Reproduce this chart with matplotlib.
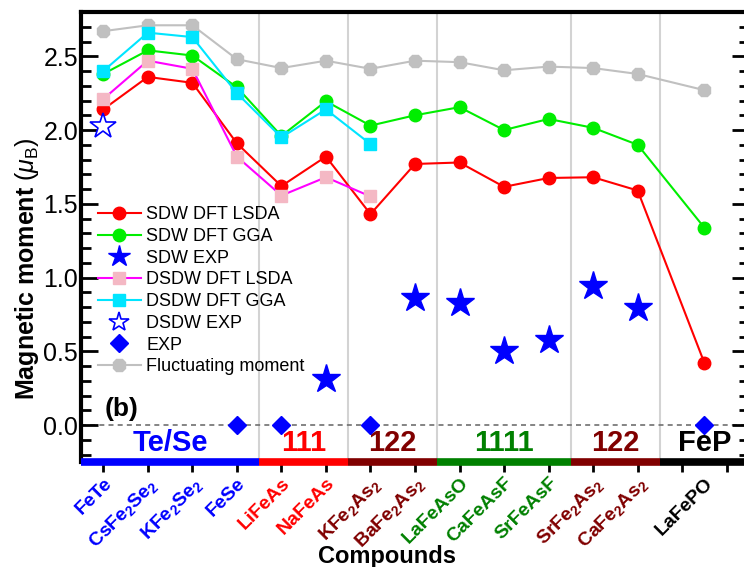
import numpy as np
import matplotlib
matplotlib.use('Agg')
import matplotlib.pyplot as plt

plt.rcParams['font.family'] = ['Liberation Sans', 'DejaVu Sans']
plt.rcParams['mathtext.fontset'] = 'custom'
plt.rcParams['mathtext.rm'] = 'Liberation Sans'
plt.rcParams['mathtext.it'] = 'Liberation Sans:italic'
plt.rcParams['mathtext.bf'] = 'Liberation Sans:bold'

nan = np.nan
compounds = ['FeTe', r'CsFe$_\mathbf{2}$Se$_\mathbf{2}$', r'KFe$_\mathbf{2}$Se$_\mathbf{2}$', 'FeSe',
             'LiFeAs', 'NaFeAs', r'KFe$_\mathbf{2}$As$_\mathbf{2}$', r'BaFe$_\mathbf{2}$As$_\mathbf{2}$',
             'LaFeAsO', 'CaFeAsF', 'SrFeAsF', r'SrFe$_\mathbf{2}$As$_\mathbf{2}$',
             r'CaFe$_\mathbf{2}$As$_\mathbf{2}$', 'LaFePO']
label_colors = ['#0000ff'] * 4 + ['#ff0000'] * 2 + ['#800000'] * 2 + ['#008000'] * 3 + ['#800000'] * 2 + ['black']

sdw_lsda = [2.14, 2.36, 2.32, 1.91, 1.62, 1.82, 1.43, 1.77, 1.78, 1.615, 1.675, 1.68, 1.59, 0.42]
sdw_gga = [2.38, 2.54, 2.505, 2.29, 1.96, 2.195, 2.03, 2.10, 2.155, 2.00, 2.075, 2.015, 1.90, 1.337]
sdw_exp = [nan, nan, nan, nan, nan, 0.31, nan, 0.86, 0.83, 0.50, 0.58, 0.94, 0.795, nan]
dsdw_lsda = [2.21, 2.47, 2.415, 1.82, 1.556, 1.68, 1.55, nan, nan, nan, nan, nan, nan, nan]
dsdw_gga = [2.40, 2.66, 2.63, 2.25, 1.95, 2.14, 1.905, nan, nan, nan, nan, nan, nan, nan]
dsdw_exp = [2.03, nan, nan, nan, nan, nan, nan, nan, nan, nan, nan, nan, nan, nan]
exp = [nan, nan, nan, 0.0, 0.0, nan, 0.0, nan, nan, nan, nan, nan, nan, 0.0]
fluct = [2.67, 2.71, 2.71, 2.48, 2.42, 2.47, 2.415, 2.47, 2.46, 2.405, 2.43, 2.42, 2.38, 2.27]

groups = ['Te/Se', '111', '122', '1111', '122', 'FeP']
group_colors = ['#0000ff', '#ff0000', '#800000', '#008000', '#800000', 'black']
group_edges = [0.5, 4.5, 6.5, 8.5, 11.5, 13.5, 15.5]

x = list(range(1, 14)) + [14.5]

fig = plt.figure(figsize=(7.44, 5.67), dpi=100)
ax = fig.add_axes([81 / 744, 105 / 567, 668 / 744, 450 / 567])

ymin, ymax = -0.25, 2.8
for e in group_edges[1:-1]:
    ax.axvline(e, color='#d3d3d3', lw=1.5, zorder=0)
ax.axhline(0, color='#707070', lw=1.2, ls=(0, (3, 2.5)), zorder=1)

ax.plot(x, sdw_lsda, '-o', color='#ff0000', ms=9, lw=1.5, label='SDW DFT LSDA')
ax.plot(x, sdw_gga, '-o', color='#00ee00', ms=9, lw=1.5, label='SDW DFT GGA')
ax.plot(x, sdw_exp, '*', color='#0000ff', ms=21, ls='none', label='SDW EXP')
ax.plot(x, dsdw_lsda, '-s', color='#ff00ff', mfc='#f4b8c4', mec='#f4b8c4', ms=8.5, lw=1.5,
        label='DSDW DFT LSDA')
ax.plot(x, dsdw_gga, '-s', color='#00e5ff', ms=8.5, lw=1.5, label='DSDW DFT GGA')
ax.plot(x, dsdw_exp, '*', mfc='white', mec='#0000ff', mew=1.2, ms=19, ls='none', label='DSDW EXP')
ax.plot(x, exp, 'D', color='#0000ff', ms=9.5, ls='none', label='EXP', zorder=4)
ax.plot(x, fluct, '-8', color='#c0c0c0', ms=10, lw=1.5, label='Fluctuating moment', zorder=1.5)

leg = ax.legend(loc='upper left', bbox_to_anchor=(0.025, 0.568), frameon=False, fontsize=13,
                borderpad=0, borderaxespad=0, handlelength=2.4, handletextpad=0.3,
                labelspacing=0.26)
for h, s in zip(leg.legend_handles, [9, 9, 16, 8.5, 8.5, 15, 9, 10]):
    h.set_markersize(s)

for i, g in enumerate(groups):
    a, b = group_edges[i], group_edges[i + 1]
    ax.plot([a, b], [ymin, ymin], color=group_colors[i], lw=5.5, solid_capstyle='butt',
            clip_on=False, zorder=5)
    ax.text((a + b) / 2, -0.12, g, color=group_colors[i], fontsize=21, fontweight='bold',
            ha='center', va='center')

ax.text(1.03, 0.03, '(b)', fontsize=19, fontweight='bold', ha='left', va='bottom')

ax.set_xlim(0.5, 15.5)
ax.set_ylim(ymin, ymax)

ax.set_xticks(list(range(1, 16)), compounds[:13] + ['', ''])
ax.set_xticks([14.5], [compounds[13]], minor=True)
for lab, c in zip(ax.get_xticklabels(), label_colors[:13]):
    lab.set_color(c)
ax.get_xticklabels(minor=True)[0].set_color(label_colors[13])
ax.tick_params(axis='x', which='major', direction='out', length=7, width=2, pad=2)
ax.tick_params(axis='x', which='minor', length=0, pad=9)
for lab in ax.get_xticklabels() + ax.get_xticklabels(minor=True):
    lab.set_rotation(45)
    lab.set_ha('right')
    lab.set_va('top')
    lab.set_rotation_mode('anchor')
    lab.set_fontsize(14)
    lab.set_fontweight('bold')

ax.set_yticks(np.arange(0, 2.51, 0.5))
ax.set_yticks(np.arange(-0.2, 2.81, 0.1), minor=True)
ax.set_yticklabels(['%.1f' % v for v in np.arange(0, 2.51, 0.5)])
ax.tick_params(axis='y', which='both', direction='in', right=True, width=2, labelsize=18, pad=2)
ax.tick_params(axis='y', which='major', length=12)
ax.tick_params(axis='y', which='minor', length=7)

for s in ['left', 'right', 'top']:
    ax.spines[s].set_linewidth(3)
ax.spines['bottom'].set_visible(False)

ax.set_xlabel('Compounds', fontsize=17, fontweight='bold')
ax.xaxis.set_label_coords(0.458, -0.185)
ax.set_ylabel(r'Magnetic moment $(\mu_\mathrm{B})$', fontsize=18, fontweight='bold')
ax.yaxis.set_label_coords(-0.06, 0.43)

fig.savefig('out.png', dpi=100)
